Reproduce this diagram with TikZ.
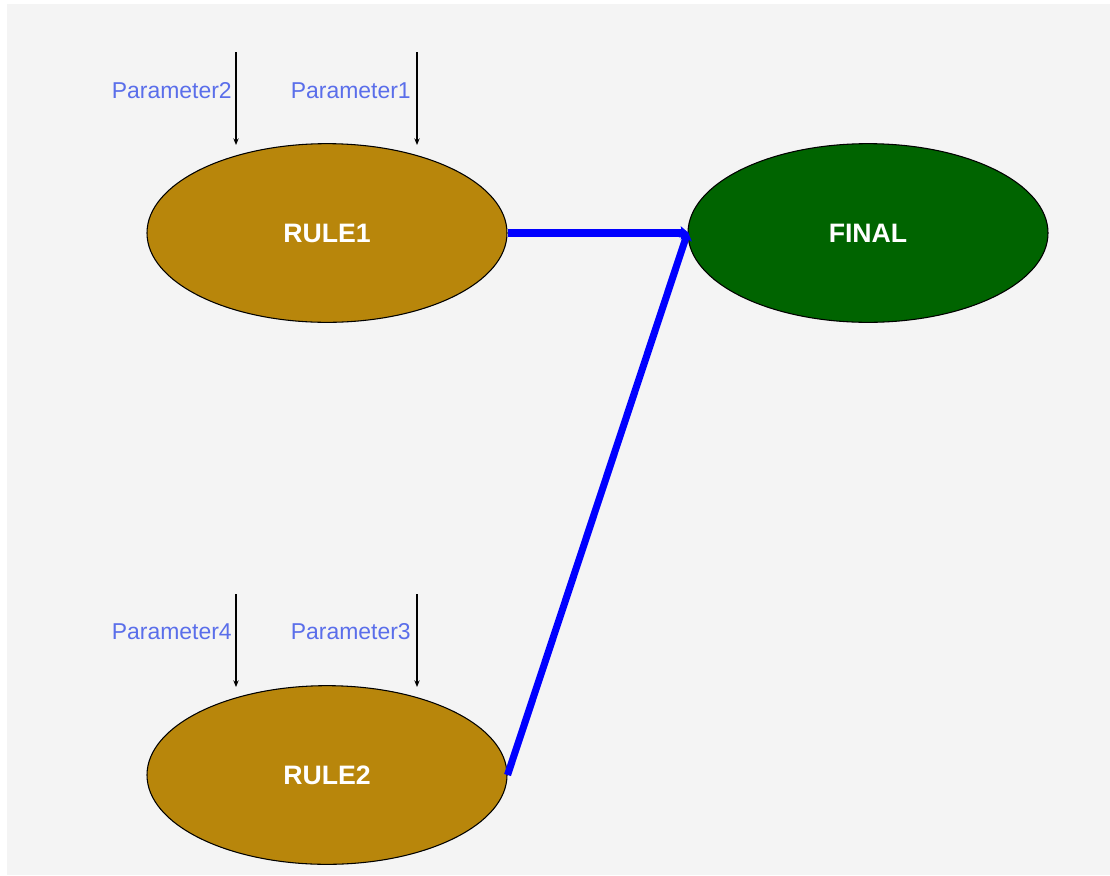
\documentclass[tikz,border=0pt]{standalone}
\usepackage{fontspec}
\setmainfont{Liberation Sans}
\usetikzlibrary{shapes.geometric,arrows.meta}
\definecolor{canvas}{HTML}{F4F4F4}
\definecolor{rulefill}{HTML}{B8860B}
\definecolor{finalfill}{HTML}{006400}
\definecolor{paramtext}{HTML}{5A6EEA}
\definecolor{flowblue}{HTML}{0000FF}
\tikzset{
  rulenode/.style={ellipse, draw=black, line width=0.8pt, fill=rulefill,
    minimum width=270pt, minimum height=134pt, inner sep=0pt,
    text=white, font=\fontsize{20}{23}\selectfont\bfseries},
  finalnode/.style={rulenode, fill=finalfill},
  paramlabel/.style={anchor=east, inner sep=0pt, text=paramtext,
    font=\fontsize{17.2}{20}\selectfont},
  paramarrow/.style={draw=black, line width=0.9pt,
    -{Stealth[length=5pt,width=4pt]}},
  flow/.style={draw=flowblue, line width=5.3pt,
    -{Stealth[length=6pt,width=10pt,inset=1pt]}, shorten >=-1pt},
}
\begin{document}
\begin{tikzpicture}[x=0.75pt,y=-0.75pt]
  % page and canvas
  \fill[white] (0,0) rectangle (1110,875);
  \fill[canvas] (7,4) rectangle (1110,875);
  \useasboundingbox (0,0) rectangle (1110,875);

  % rule and result nodes
  \node[rulenode] (r1) at (327,233) {RULE1};
  \node[rulenode] (r2) at (327,775) {RULE2};
  \node[finalnode] (fin) at (868,233) {FINAL};

  % parameter inputs for RULE1
  \coordinate (p2s) at (236,52);  \coordinate (p2e) at (236,145);
  \coordinate (p1s) at (417,52);  \coordinate (p1e) at (417,145);
  \draw[paramarrow] (p2s) -- (p2e);
  \draw[paramarrow] (p1s) -- (p1e);
  \node[paramlabel] (l2) at (232,91) {Parameter2};
  \node[paramlabel] (l1) at (411,91) {Parameter1};

  % parameter inputs for RULE2
  \coordinate (p4s) at (236,594); \coordinate (p4e) at (236,687);
  \coordinate (p3s) at (417,594); \coordinate (p3e) at (417,687);
  \draw[paramarrow] (p4s) -- (p4e);
  \draw[paramarrow] (p3s) -- (p3e);
  \node[paramlabel] (l4) at (232,632) {Parameter4};
  \node[paramlabel] (l3) at (411,632) {Parameter3};

  % flows into FINAL
  \draw[flow] (r1.east) -- (fin.west);
  \draw[flow] (r2.east) -- (fin.west);
\end{tikzpicture}
\end{document}
